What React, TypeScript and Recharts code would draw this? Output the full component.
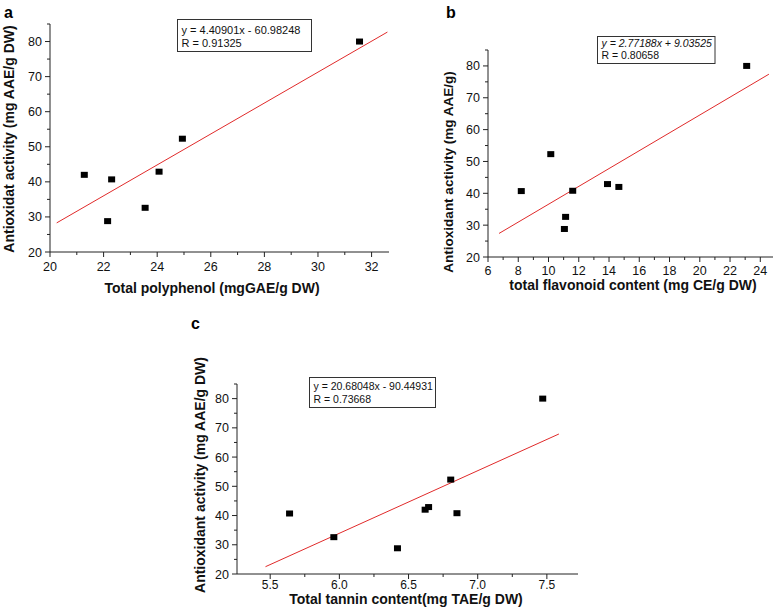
import React from 'react';
import { ScatterChart, Scatter, XAxis, YAxis, ReferenceLine } from 'recharts';

// ---- data ----
const polyphenolX = [21.28, 22.15, 22.3, 23.55, 24.07, 24.94, 31.55];
const polyphenolY = [42.0, 28.8, 40.7, 32.6, 42.9, 52.3, 80.0];
const flavonoidX = [8.2, 10.15, 11.05, 11.13, 11.6, 13.9, 14.65, 23.1];
const flavonoidY = [40.7, 52.3, 28.8, 32.6, 40.8, 42.9, 42.0, 80.0];
const tanninX = [5.64, 5.96, 6.42, 6.62, 6.645, 6.805, 6.85, 7.47];
const tanninY = [40.7, 32.6, 28.8, 42.0, 42.9, 52.3, 40.8, 80.0];

// regression line end points
const fitAX = [20.25, 32.59];
const fitAY = [28.3, 82.7];
const fitBX = [6.73, 24.57];
const fitBY = [27.4, 77.4];
const fitCX = [5.466, 7.587];
const fitCY = [22.5, 67.9];

// ticks
const yMajor = [20, 30, 40, 50, 60, 70, 80];
const yMinor = [25, 35, 45, 55, 65, 75, 85];
const aMajor = [20, 22, 24, 26, 28, 30, 32];
const aMinor = [21, 23, 25, 27, 29, 31];
const bMajor = [6, 8, 10, 12, 14, 16, 18, 20, 22, 24];
const bMinor = [7, 9, 11, 13, 15, 17, 19, 21, 23];
const cMajor = [5.5, 6.0, 6.5, 7.0, 7.5];
const cMinor = [5.75, 6.25, 6.75, 7.25];

// text
const eqA = ['y = 4.40901x - 60.98248', 'R = 0.91325'];
const eqB = ['y = 2.77188x + 9.03525', 'R = 0.80658'];
const eqC = ['y = 20.68048x - 90.44931', 'R = 0.73668'];
const xTitleA = 'Total polyphenol (mgGAE/g DW)';
const yTitleA = 'Antioxidat activity (mg AAE/g DW)';
const xTitleB = 'total flavonoid content (mg CE/g DW)';
const yTitleB = 'Antioxidant activity (mg AAE/g)';
const xTitleC = 'Total tannin content(mg TAE/g DW)';
const yTitleC = 'Antioxidant activity (mg AAE/g DW)';

const FONT = '"Liberation Sans", Arial, Helvetica, sans-serif';
const AXIS = '#222';

const zip = (xs: number[], ys: number[]) => xs.map((x, i) => ({ x, y: ys[i] }));

const near = (arr: number[], v: number) => arr.some((m) => Math.abs(m - v) < 1e-6);

function XTick(props: any) {
  const { x, y, payload, majors, fmt, labelDy, fs } = props;
  const v = payload.value;
  const major = near(majors, v);
  return (
    <g>
      <line x1={x} x2={x} y1={y} y2={y + (major ? 5 : 3)} stroke={AXIS} strokeWidth={1} />
      {major && (
        <text x={x} y={y + labelDy} textAnchor="middle" fontSize={fs} fontFamily={FONT} fill="#111">
          {fmt(v)}
        </text>
      )}
    </g>
  );
}

function YTick(props: any) {
  const { x, y, payload } = props;
  const v = payload.value;
  const major = near(yMajor, v);
  return (
    <g>
      <line x1={x} x2={x - (major ? 5 : 3)} y1={y} y2={y} stroke={AXIS} strokeWidth={1} />
      {major && (
        <text x={x - 8} y={y} dy="0.36em" textAnchor="end" fontSize={12.5} fontFamily={FONT} fill="#111">
          {v}
        </text>
      )}
    </g>
  );
}

const Marker = (p: any) => <rect x={p.cx - 3.5} y={p.cy - 3} width={7} height={6} fill="#000" />;

function Panel(props: any) {
  const { data, fitX, fitY, xDomain, xMajor, xMinor, margin, fmt, labelDy, tickFs } = props;
  const ticks = [...xMajor, ...xMinor].sort((a: number, b: number) => a - b);
  const yTicks = [...yMajor, ...yMinor].sort((a, b) => a - b);
  return (
    <div style={{ position: 'absolute', left: 0, top: 0 }}>
      <ScatterChart width={776} height={615} margin={margin}>
        <XAxis
          type="number"
          dataKey="x"
          domain={xDomain}
          ticks={ticks}
          interval={0}
          height={1}
          tickSize={0}
          tickMargin={0}
          tickLine={false}
          axisLine={{ stroke: AXIS, strokeWidth: 1 }}
          allowDataOverflow
          tick={(p: any) => <XTick {...p} majors={xMajor} fmt={fmt} labelDy={labelDy} fs={tickFs} />}
        />
        <YAxis
          type="number"
          dataKey="y"
          domain={[20, 85]}
          ticks={yTicks}
          interval={0}
          width={1}
          tickSize={0}
          tickMargin={0}
          tickLine={false}
          axisLine={{ stroke: AXIS, strokeWidth: 1 }}
          allowDataOverflow
          tick={(p: any) => <YTick {...p} />}
        />
        <ReferenceLine
          segment={[
            { x: fitX[0], y: fitY[0] },
            { x: fitX[1], y: fitY[1] },
          ]}
          stroke="#e02a2a"
          strokeWidth={1}
          ifOverflow="visible"
        />
        <Scatter data={data} shape={Marker} isAnimationActive={false} />
      </ScatterChart>
    </div>
  );
}

function EqBox(props: any) {
  const { x, y, w, h, lines, fs, b1, b2, italic } = props;
  return (
    <g>
      <rect x={x} y={y} width={w} height={h} fill="#fff" stroke="#333" strokeWidth={1} />
      <text x={x + 4} y={y + b1} fontSize={fs} fontFamily={FONT} fontStyle={italic ? 'italic' : 'normal'} fill="#111">
        {lines[0]}
      </text>
      <text x={x + 4} y={y + b2} fontSize={fs} fontFamily={FONT} fill="#111">
        {lines[1]}
      </text>
    </g>
  );
}

export default function App() {
  const intFmt = (v: number) => String(v);
  const decFmt = (v: number) => v.toFixed(1);
  return (
    <div style={{ position: 'absolute', left: 0, top: 0, width: 776, height: 615, background: '#fff', overflow: 'hidden' }}>
      <Panel
        data={zip(polyphenolX, polyphenolY)}
        fitX={fitAX}
        fitY={fitAY}
        xDomain={[20, 32.65]}
        xMajor={aMajor}
        xMinor={aMinor}
        fmt={intFmt}
        labelDy={19}
        tickFs={12.5}
        margin={{ top: 24, left: 49, right: 387, bottom: 362 }}
      />
      <Panel
        data={zip(flavonoidX, flavonoidY)}
        fitX={fitBX}
        fitY={fitBY}
        xDomain={[6, 24.84]}
        xMajor={bMajor}
        xMinor={bMinor}
        fmt={intFmt}
        labelDy={17.5}
        tickFs={12.5}
        margin={{ top: 50, left: 487, right: 3, bottom: 357 }}
      />
      <Panel
        data={zip(tanninX, tanninY)}
        fitX={fitCX}
        fitY={fitCY}
        xDomain={[5.26, 7.725]}
        xMajor={cMajor}
        xMinor={cMinor}
        fmt={decFmt}
        labelDy={14.5}
        tickFs={12}
        margin={{ top: 384, left: 236, right: 198, bottom: 40 }}
      />
      <svg width={776} height={615} style={{ position: 'absolute', left: 0, top: 0 }}>
        {/* panel letters */}
        <text x={4} y={18} fontSize={16} fontWeight="bold" fontFamily={FONT} fill="#000">a</text>
        <text x={446} y={18} fontSize={16} fontWeight="bold" fontFamily={FONT} fill="#000">b</text>
        <text x={191} y={329} fontSize={16} fontWeight="bold" fontFamily={FONT} fill="#000">c</text>

        {/* axis titles */}
        <text x={212} y={293} textAnchor="middle" fontSize={14} fontWeight="bold" fontFamily={FONT} fill="#111">{xTitleA}</text>
        <text transform="translate(14,139) rotate(-90)" textAnchor="middle" fontSize={14} fontWeight="bold" fontFamily={FONT} fill="#111">{yTitleA}</text>
        <text x={633} y={290} textAnchor="middle" fontSize={14} fontWeight="bold" fontFamily={FONT} fill="#111">{xTitleB}</text>
        <text transform="translate(453,172) rotate(-90)" textAnchor="middle" fontSize={13.5} fontWeight="bold" fontFamily={FONT} fill="#111">{yTitleB}</text>
        <text x={406} y={604} textAnchor="middle" fontSize={14} fontWeight="bold" fontFamily={FONT} fill="#111">{xTitleC}</text>
        <text transform="translate(205,475) rotate(-90)" textAnchor="middle" fontSize={14} fontWeight="bold" fontFamily={FONT} fill="#111">{yTitleC}</text>

        {/* equation boxes */}
        <EqBox x={177.5} y={19.5} w={134} h={32} lines={eqA} fs={11} b1={14} b2={27.5} />
        <EqBox x={597.5} y={36.5} w={117.5} h={27} lines={eqB} fs={10.5} b1={10} b2={22} italic />
        <EqBox x={309.5} y={377.5} w={126} h={30} lines={eqC} fs={10.5} b1={12.5} b2={25.5} />
      </svg>
    </div>
  );
}
